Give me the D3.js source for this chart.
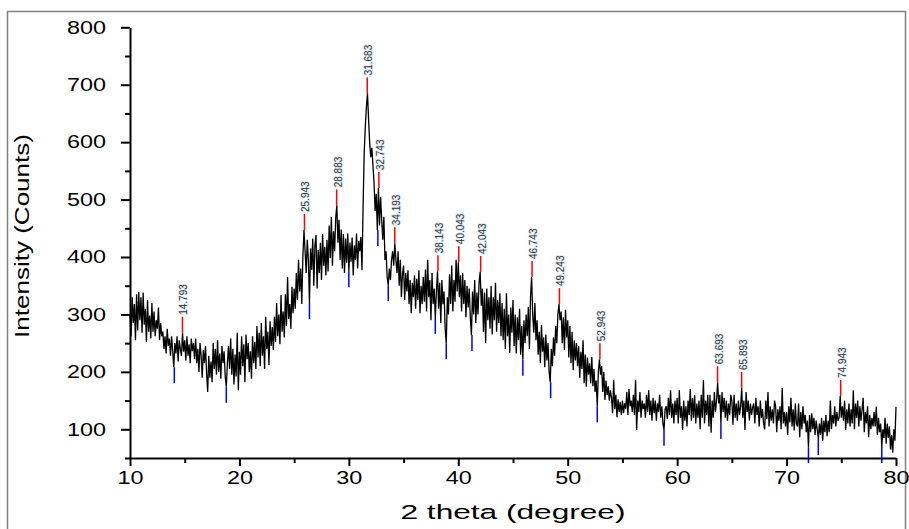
<!DOCTYPE html>
<html>
<head>
<meta charset="utf-8">
<script src="https://cdnjs.cloudflare.com/ajax/libs/d3/7.8.5/d3.min.js"></script>
<style>
    html, body { margin: 0; padding: 0; background: #fff; }
    svg { display: block; font-family: "Liberation Sans", Arial, sans-serif; }
    .axis path, .axis line { stroke: #000; stroke-width: 2; }
    .axis text { font-size: 18px; fill: #000; }
</style>
</head>
<body>
<div id="vis"></div>
<script>
/* XRD pattern, intensity vs 2 theta */

// Scan grid (degrees 2 theta)
var thetaStart = 10;
var thetaStep = 0.1;

// Counts, one row per degree (x.0, x.1, ... x.9)
var counts = [
    300, 262, 330, 285, 318, 255, 335, 272, 339, 290,   // 10
    330, 268, 338, 282, 310, 252, 325, 270, 298, 258,   // 11
    320, 270, 305, 262, 290, 275, 312, 255, 285, 262,   // 12
    270, 240, 262, 232, 275, 245, 258, 228, 262, 236,   // 13
    208, 250, 232, 262, 218, 255, 240, 228, 268, 235,   // 14
    255, 220, 262, 228, 248, 215, 258, 236, 250, 222,   // 15
    258, 215, 240, 200, 250, 228, 190, 238, 215, 245,   // 16
    198, 165, 228, 190, 218, 182, 250, 205, 240, 195,   // 17
    255, 200, 232, 188, 245, 215, 236, 192, 174, 215,   // 18
    245, 205, 258, 195, 240, 178, 230, 192, 268, 168,   // 19
    235, 195, 262, 210, 248, 182, 265, 222, 250, 200,   // 20
    236, 188, 262, 215, 252, 205, 280, 225, 268, 210,   // 21
    285, 228, 262, 205, 296, 240, 270, 212, 288, 245,   // 22
    278, 238, 296, 252, 320, 262, 300, 248, 334, 270,   // 23
    305, 260, 335, 280, 365, 292, 318, 275, 348, 302,   // 24
    345, 310, 372, 325, 395, 340, 380, 318, 402, 447,   // 25
    410, 372, 430, 395, 320, 415, 378, 432, 350, 420,   // 26
    438, 345, 412, 372, 425, 360, 440, 385, 418, 368,   // 27
    430, 375, 455, 398, 470, 385, 445, 410, 468, 490,   // 28
    425, 465, 395, 448, 380, 440, 372, 432, 390, 441,   // 29
    375, 425, 392, 434, 368, 420, 395, 441, 380, 428,   // 30
    410, 435, 377, 487, 580, 626, 660, 685, 641, 600,   // 31
    574, 590, 560, 530, 480, 510, 447, 520, 455, 505,   // 32
    465, 430, 470, 395, 410, 365, 351, 380, 360, 395,   // 33
    410, 385, 424, 395, 372, 410, 350, 395, 330, 370,   // 34
    385, 325, 372, 340, 377, 318, 360, 302, 355, 330,   // 35
    368, 310, 362, 325, 377, 302, 350, 318, 365, 322,   // 36
    378, 305, 395, 330, 360, 290, 372, 318, 345, 294,   // 37
    340, 375, 310, 355, 285, 360, 318, 340, 275, 250,   // 38
    330, 300, 370, 318, 385, 305, 360, 322, 395, 340,   // 39
    391, 330, 368, 305, 372, 318, 360, 295, 350, 312,   // 40
    345, 295, 264, 340, 300, 360, 285, 338, 300, 355,   // 41
    374, 315, 345, 270, 338, 250, 345, 290, 330, 275,   // 42
    350, 265, 330, 290, 355, 270, 325, 285, 337, 262,   // 43
    320, 255, 310, 240, 337, 262, 300, 233, 312, 268,   // 44
    325, 245, 300, 232, 295, 255, 310, 230, 280, 221,   // 45
    290, 250, 300, 262, 313, 240, 330, 365, 300, 268,   // 46
    320, 255, 290, 230, 270, 215, 282, 235, 260, 208,   // 47
    265, 220, 250, 200, 182, 240, 210, 260, 228, 280,   // 48
    250, 300, 318, 290, 305, 250, 295, 238, 308, 260,   // 49
    290, 225, 280, 215, 270, 203, 255, 220, 250, 210,   // 50
    245, 190, 235, 205, 255, 180, 230, 174, 225, 195,   // 51
    215, 180, 226, 175, 205, 165, 185, 140, 200, 222,   // 52
    195, 210, 165, 200, 151, 185, 160, 175, 150, 168,   // 53
    155, 128, 186, 135, 160, 121, 152, 130, 148, 125,   // 54
    150, 128, 145, 135, 165, 125, 170, 140, 150, 130,   // 55
    160, 125, 186, 99, 150, 130, 165, 120, 150, 135,    // 56
    145, 120, 160, 130, 168, 125, 150, 115, 155, 128,   // 57
    150, 115, 145, 130, 160, 120, 140, 110, 99, 135,    // 58
    140, 118, 155, 125, 168, 120, 145, 110, 150, 125,   // 59
    155, 110, 168, 120, 140, 99, 150, 115, 140, 105,    // 60
    150, 125, 170, 115, 155, 120, 160, 110, 145, 120,   // 61
    150, 100, 160, 120, 186, 110, 150, 125, 160, 105,   // 62
    160, 94, 150, 120, 165, 130, 150, 182, 145, 160,    // 63
    111, 165, 130, 155, 120, 150, 115, 145, 125, 160,   // 64
    150, 108, 160, 120, 145, 115, 150, 125, 140, 172,   // 65
    120, 150, 99, 165, 130, 150, 115, 145, 125, 138,    // 66
    145, 110, 155, 125, 140, 105, 150, 120, 135, 110,   // 67
    100, 150, 118, 165, 105, 140, 115, 135, 110, 150,   // 68
    140, 95, 135, 115, 140, 100, 172, 110, 130, 105,    // 69
    130, 90, 140, 112, 155, 105, 135, 98, 145, 110,     // 70
    105, 145, 86, 130, 100, 140, 110, 125, 95, 115,     // 71
    69, 125, 95, 128, 100, 120, 90, 115, 100, 83,       // 72
    110, 90, 120, 80, 115, 95, 125, 88, 115, 95,        // 73
    150, 100, 125, 110, 140, 105, 130, 115, 120, 158,   // 74
    120, 140, 115, 150, 99, 135, 110, 145, 105, 135,    // 75
    110, 168, 100, 145, 120, 150, 105, 140, 115, 135,   // 76
    155, 95, 130, 110, 140, 86, 125, 100, 120, 105,     // 77
    130, 105, 139, 90, 120, 95, 110, 69, 100, 85,       // 78
    120, 75, 110, 85, 105, 65, 90, 59, 100, 80,         // 79
    139                                                 // 80
];

// Labelled peaks (red markers)
var peakTheta = [14.793, 25.943, 28.883, 31.683, 32.743, 34.193, 38.143, 40.043, 42.043, 46.743, 49.243, 52.943, 63.693, 65.893, 74.943];
var peakLabel = ['14.793', '25.943', '28.883', '31.683', '32.743', '34.193', '38.143', '40.043', '42.043', '46.743', '49.243', '52.943', '63.693', '65.893', '74.943'];
var peakCounts = [268, 447, 490, 685, 520, 424, 375, 391, 374, 365, 318, 222, 182, 172, 158];

// Valleys (blue markers)
var valleyTheta = [14.05, 18.8, 26.4, 30.0, 32.65, 33.6, 37.9, 38.9, 41.25, 45.9, 48.44, 52.7, 58.8, 64.0, 72.0, 72.9, 78.7];
var valleyCounts = [208, 174, 320, 375, 447, 351, 294, 250, 264, 221, 182, 140, 99, 111, 69, 83, 69];

// Axis ticks
var xTicks = [10, 20, 30, 40, 50, 60, 70, 80];
var xMinorTicks = [15, 25, 35, 45, 55, 65, 75];
var yTicks = [100, 200, 300, 400, 500, 600, 700, 800];
var yMinorTicks = [50, 150, 250, 350, 450, 550, 650, 750];

(function() {
    // Margin in SVG for axes and titles
    var margin = {
        left: 130,
        top: 27.3,
        right: 13,
        bottom: 71
    };

    var totalWidth = 909, totalHeight = 529;
    var width = totalWidth - margin.left - margin.right;
    var height = totalHeight - margin.top - margin.bottom;

    // Join grid and counts
    var data = counts.map(function(c, i) {
        return {theta: Math.round((thetaStart + i * thetaStep) * 10) / 10, counts: c};
    });

    /* ************************* Chart wrappers ************************* */
    var svg = d3.select('#vis')
        .append('svg')
        .attr('width', totalWidth)
        .attr('height', totalHeight);

    // Grey frame round the graph page
    svg.append('rect')
        .attr('x', 7.5)
        .attr('y', 11.5)
        .attr('width', 898)
        .attr('height', 600)
        .attr('fill', 'none')
        .attr('stroke', '#808080')
        .attr('stroke-width', 1.5);

    var g = svg.append('g')
        .attr('transform', 'translate(' + margin.left + ',' + margin.top + ')');

    /* ************************* Scales ************************* */
    var xScale = d3.scaleLinear()
        .domain([10, 80])
        .range([0, width]);

    var yScale = d3.scaleLinear()
        .domain([50, 800])
        .range([height, 0]);

    /* ************************* Axes ************************* */
    // stretch tick text a bit wider, as in the original export
    var widen = function(sel) {
        sel.selectAll('text')
            .attr('textLength', function() { return this.textContent.length * 13; })
            .attr('lengthAdjust', 'spacingAndGlyphs');
    };

    var xAxis = d3.axisBottom(xScale)
        .tickValues(xTicks)
        .tickSize(8)
        .tickSizeOuter(0)
        .tickPadding(5);

    var xMinor = d3.axisBottom(xScale)
        .tickValues(xMinorTicks)
        .tickSize(5)
        .tickFormat('');

    var yAxis = d3.axisLeft(yScale)
        .tickValues(yTicks)
        .tickSize(9)
        .tickSizeOuter(0)
        .tickPadding(15);

    var yMinor = d3.axisLeft(yScale)
        .tickValues(yMinorTicks)
        .tickSize(5)
        .tickFormat('');

    g.append('g')
        .attr('class', 'axis')
        .attr('transform', 'translate(0,' + height + ')')
        .call(xMinor)
        .select('.domain').remove();

    g.append('g')
        .attr('class', 'axis')
        .call(yMinor)
        .select('.domain').remove();

    g.append('g')
        .attr('class', 'axis')
        .attr('transform', 'translate(0,' + height + ')')
        .call(xAxis)
        .call(widen);

    g.append('g')
        .attr('class', 'axis')
        .call(yAxis)
        .call(widen);

    // Axis titles
    svg.append('text')
        .attr('x', margin.left + width / 2)
        .attr('y', 519)
        .attr('text-anchor', 'middle')
        .attr('textLength', 225)
        .attr('lengthAdjust', 'spacingAndGlyphs')
        .style('font-size', '20px')
        .text('2 theta (degree)');

    svg.append('text')
        .attr('transform', 'translate(29,236) rotate(-90)')
        .attr('text-anchor', 'middle')
        .attr('textLength', 204)
        .attr('lengthAdjust', 'spacingAndGlyphs')
        .style('font-size', '20px')
        .text('Intensity (Counts)');

    /* ************************* Pattern line ************************* */
    var line = d3.line()
        .x(function(d) { return xScale(d.theta); })
        .y(function(d) { return yScale(d.counts); });

    g.append('path')
        .datum(data)
        .attr('d', line)
        .attr('fill', 'none')
        .attr('stroke', '#000')
        .attr('stroke-width', 1.3)
        .attr('stroke-linejoin', 'miter');

    /* ************************* Peak / valley markers ************************* */
    var peaks = peakTheta.map(function(t, i) {
        return {theta: t, counts: peakCounts[i], label: peakLabel[i]};
    });
    var valleys = valleyTheta.map(function(t, i) {
        return {theta: t, counts: valleyCounts[i]};
    });

    g.selectAll('.peak')
        .data(peaks)
        .enter().append('line')
        .attr('class', 'peak')
        .attr('x1', function(d) { return xScale(d.theta); })
        .attr('x2', function(d) { return xScale(d.theta); })
        .attr('y1', function(d) { return yScale(d.counts); })
        .attr('y2', function(d) { return yScale(d.counts) - 16; })
        .attr('stroke', '#ff0000')
        .attr('stroke-width', 1.5);

    g.selectAll('.peak-label')
        .data(peaks)
        .enter().append('text')
        .attr('class', 'peak-label')
        .attr('transform', function(d) {
            return 'translate(' + xScale(d.theta) + ',' + (yScale(d.counts) - 18) + ') rotate(-90)';
        })
        .attr('dy', '0.5em')
        .attr('text-anchor', 'start')
        .style('font-size', '10px')
        .style('fill', '#333')
        .style('stroke', '#e4eef5')
        .style('stroke-width', 2)
        .style('paint-order', 'stroke')
        .text(function(d) { return d.label; });

    g.selectAll('.valley')
        .data(valleys)
        .enter().append('line')
        .attr('class', 'valley')
        .attr('x1', function(d) { return xScale(d.theta); })
        .attr('x2', function(d) { return xScale(d.theta); })
        .attr('y1', function(d) { return yScale(d.counts); })
        .attr('y2', function(d) { return yScale(d.counts) + 16; })
        .attr('stroke', '#0000ff')
        .attr('stroke-width', 1.5);
})();
</script>
</body>
</html>
